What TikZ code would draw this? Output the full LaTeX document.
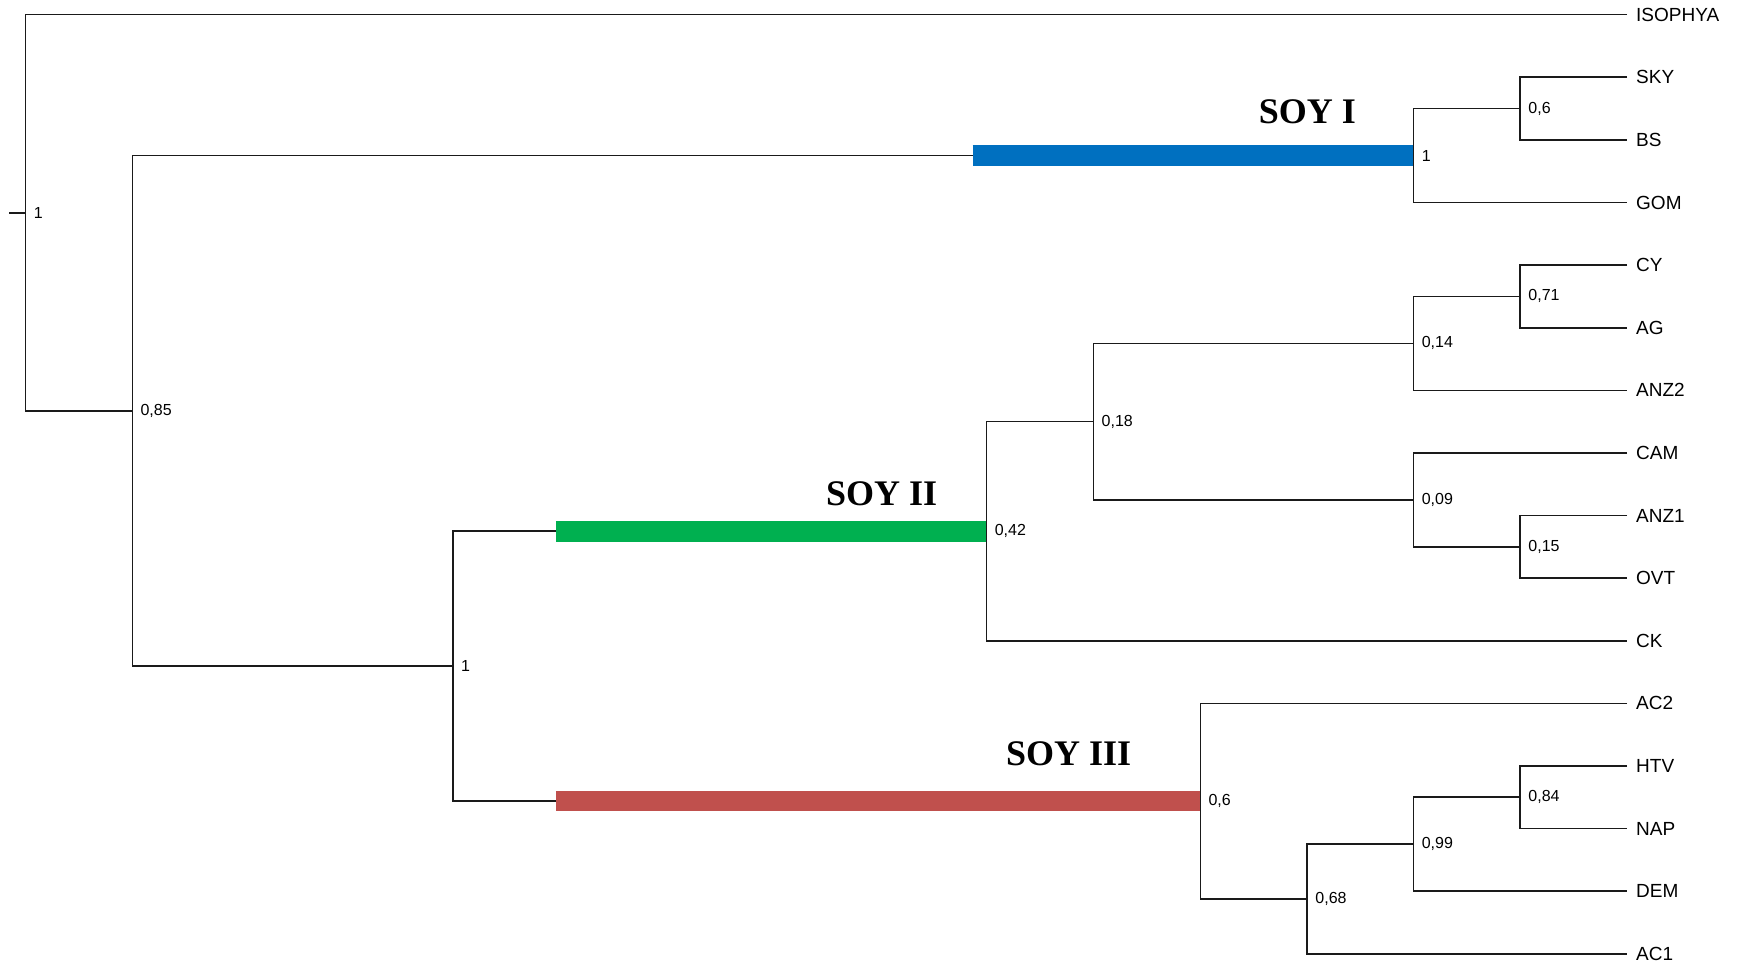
\documentclass[tikz,border=0pt]{standalone}
\usepackage{fontspec}
\setmainfont{Liberation Serif}
\newfontfamily\lsans{Liberation Sans}
\definecolor{soyblue}{HTML}{0070C0}
\definecolor{soygreen}{HTML}{00B050}
\definecolor{soyred}{HTML}{C0504D}
\definecolor{treeline}{HTML}{1A1A1A}
\begin{document}
\begin{tikzpicture}[x=1pt,y=-1pt,
  br/.style={draw=treeline,line width=1.6pt},
  leaf/.style={anchor=west,inner sep=0pt,inner xsep=9pt,font=\lsans\fontsize{19}{19}\selectfont},
  sup/.style={anchor=west,inner sep=0pt,xshift=8pt,font=\lsans\fontsize{16}{16}\selectfont},
  clade/.style={anchor=base west,inner sep=0pt,font=\bfseries\fontsize{36}{36}\selectfont},
  bar/.style={line width=20.7pt}]
\useasboundingbox (0,0) rectangle (1741,966);
% leaves
\node[leaf] (ISOPHYA) at (1627,14.7) {ISOPHYA};
\node[leaf] (SKY) at (1627,77.3) {SKY};
\node[leaf] (BS) at (1627,139.9) {BS};
\node[leaf] (GOM) at (1627,202.5) {GOM};
\node[leaf] (CY) at (1627,265.1) {CY};
\node[leaf] (AG) at (1627,327.7) {AG};
\node[leaf] (ANZ2) at (1627,390.3) {ANZ2};
\node[leaf] (CAM) at (1627,452.9) {CAM};
\node[leaf] (ANZ1) at (1627,515.5) {ANZ1};
\node[leaf] (OVT) at (1627,578.1) {OVT};
\node[leaf] (CK) at (1627,640.7) {CK};
\node[leaf] (AC2) at (1627,703.3) {AC2};
\node[leaf] (HTV) at (1627,765.9) {HTV};
\node[leaf] (NAP) at (1627,828.5) {NAP};
\node[leaf] (DEM) at (1627,891.1) {DEM};
\node[leaf] (AC1) at (1627,953.7) {AC1};
% internal nodes
\coordinate (root) at (25.6,212.75);
\coordinate (stub) at (9.2,212.75);
\coordinate (n085) at (132.4,410.8);
\coordinate (soy1) at (1413.6,155.55);
\coordinate (b1) at (972.6,155.55);
\coordinate (n06a) at (1520.2,108.6);
\coordinate (nI) at (453,666.1);
\coordinate (n042) at (986.6,531.15);
\coordinate (b2) at (555.8,531.15);
\coordinate (n018) at (1093.5,421.6);
\coordinate (n014) at (1413.6,343.35);
\coordinate (n071) at (1520.2,296.4);
\coordinate (n009) at (1413.6,499.85);
\coordinate (n015) at (1520.2,546.8);
\coordinate (n06b) at (1200.3,801.1);
\coordinate (b3) at (555.8,801.1);
\coordinate (n068) at (1307.2,898.9);
\coordinate (n099) at (1413.6,844.15);
\coordinate (n084) at (1520.2,797.2);
% coloured bars
\draw[bar,soyblue] (b1) -- (soy1);
\draw[bar,soygreen] (b2) -- (n042);
\draw[bar,soyred] (b3) -- (n06b);
% branches
\draw[br] (stub) -- (root);
\draw[br] (ISOPHYA.west) -| (root) |- (n085);
\draw[br] (b1) -| (n085) |- (nI);
\draw[br] (n06a) -| (soy1) |- (GOM.west);
\draw[br] (SKY.west) -| (n06a) |- (BS.west);
\draw[br] (b2) -| (nI) |- (b3);
\draw[br] (n018) -| (n042) |- (CK.west);
\draw[br] (n014) -| (n018) |- (n009);
\draw[br] (n071) -| (n014) |- (ANZ2.west);
\draw[br] (CY.west) -| (n071) |- (AG.west);
\draw[br] (CAM.west) -| (n009) |- (n015);
\draw[br] (ANZ1.west) -| (n015) |- (OVT.west);
\draw[br] (AC2.west) -| (n06b) |- (n068);
\draw[br] (n099) -| (n068) |- (AC1.west);
\draw[br] (n084) -| (n099) |- (DEM.west);
\draw[br] (HTV.west) -| (n084) |- (NAP.west);
% support values
\node[sup] (s-root) at (root) {1};
\node[sup] (s-n085) at (n085) {0,85};
\node[sup] (s-soy1) at (soy1) {1};
\node[sup] (s-n06a) at (n06a) {0,6};
\node[sup] (s-nI) at (nI) {1};
\node[sup] (s-n042) at (n042) {0,42};
\node[sup] (s-n018) at (n018) {0,18};
\node[sup] (s-n014) at (n014) {0,14};
\node[sup] (s-n071) at (n071) {0,71};
\node[sup] (s-n009) at (n009) {0,09};
\node[sup] (s-n015) at (n015) {0,15};
\node[sup] (s-n06b) at (n06b) {0,6};
\node[sup] (s-n068) at (n068) {0,68};
\node[sup] (s-n099) at (n099) {0,99};
\node[sup] (s-n084) at (n084) {0,84};
% clade names
\node[clade] (SOYI) at (1258.7,124) {SOY I};
\node[clade] (SOYII) at (825.8,505.7) {SOY II};
\node[clade] (SOYIII) at (1005.9,765.7) {SOY III};
\end{tikzpicture}
\end{document}
